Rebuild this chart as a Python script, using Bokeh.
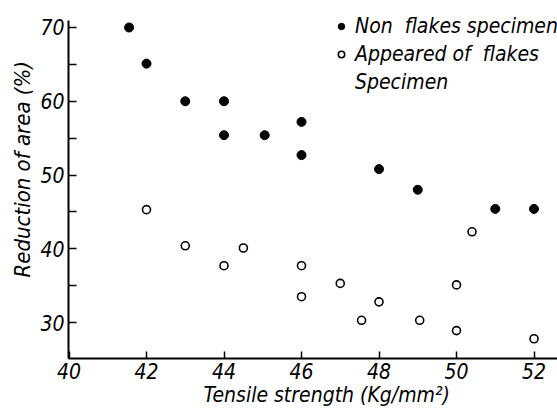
from bokeh.plotting import figure
from bokeh.models import Range1d, FixedTicker, Legend, LegendItem, Title
from bokeh.embed import file_html
from bokeh.resources import INLINE

# Data
non_x = [41.55, 42.0, 43.0, 44.0, 44.0, 45.05, 46.0, 46.0, 48.0, 49.0, 51.0, 52.0]
non_y = [70.0, 65.1, 60.0, 60.0, 55.4, 55.4, 57.2, 52.7, 50.8, 48.0, 45.4, 45.4]
app_x = [42.0, 43.0, 44.0, 44.5, 46.0, 46.0, 47.0, 47.55, 48.0, 49.05, 50.0, 50.0, 50.4, 52.0]
app_y = [45.3, 40.4, 37.7, 40.1, 37.7, 33.5, 35.3, 30.3, 32.8, 30.3, 35.1, 28.9, 42.3, 27.8]
x_ticks = [40, 42, 44, 46, 48, 50, 52]
y_ticks = [30, 40, 50, 60, 70]
y_minor = [35, 45, 55, 65]
non_label = "Non  flakes specimen"
app_label1 = "Appeared of  flakes"
app_label2 = "Specimen"
x_title = "Tensile  strength (Kg/mm²)"
y_title = "Reduction of  area (%)"

FONT = "DejaVu Sans Condensed"

p = figure(width=557, height=410, output_backend="svg", toolbar_location=None,
           x_range=Range1d(39.987, 52.606), y_range=Range1d(25.12, 73.66),
           min_border_left=68, min_border_right=0, min_border_top=0, min_border_bottom=52)
p.outline_line_color = None
p.grid.visible = False
p.background_fill_color = "white"

r1 = p.scatter(non_x, non_y, size=9, color="black")
r2 = p.scatter(app_x, app_y, size=8, fill_color="white", line_color="black", line_width=1.6)
r3 = p.scatter([], [], size=1, fill_alpha=0, line_alpha=0)

for ax in (p.xaxis[0], p.yaxis[0]):
    ax.axis_line_width = 2
    ax.axis_line_color = "black"
    ax.major_tick_line_color = "black"
    ax.minor_tick_line_color = "black"
    ax.major_tick_line_width = 1.5
    ax.minor_tick_line_width = 1.5
    ax.major_tick_out = 0
    ax.minor_tick_out = 0
    ax.major_label_text_font = FONT
    ax.major_label_text_font_style = "italic"
    ax.major_label_text_font_size = "21px"
    ax.major_label_text_color = "black"

p.xaxis.ticker = FixedTicker(ticks=x_ticks)
p.xaxis.major_tick_in = 7
p.xaxis.major_label_standoff = 4
p.xaxis.minor_tick_in = 0

p.yaxis.ticker = FixedTicker(ticks=y_ticks, minor_ticks=y_minor)
p.yaxis.major_tick_in = 8
p.yaxis.minor_tick_in = 8
p.yaxis.major_label_standoff = 4
p.yaxis.bounds = (25.12, 70.95)

p.add_layout(Title(text=x_title, align="left", offset=135, standoff=-2,
                   text_font=FONT, text_font_style="italic", text_font_size="21px",
                   text_color="black"), "below")
p.add_layout(Title(text=y_title, align="left", offset=81, standoff=6,
                   text_font=FONT, text_font_style="italic", text_font_size="22px",
                   text_color="black"), "left")

legend = Legend(items=[LegendItem(label=non_label, renderers=[r1]),
                       LegendItem(label=app_label1, renderers=[r2]),
                       LegendItem(label=app_label2, renderers=[r3])],
                location=(265, 264), padding=0, margin=0, spacing=4,
                glyph_width=16, glyph_height=20, label_standoff=6, label_height=20,
                label_text_font=FONT, label_text_font_style="italic",
                label_text_font_size="21px", label_text_color="black",
                background_fill_alpha=0, border_line_color=None)
p.add_layout(legend, "center")

open("out.html", "w").write(file_html(p, INLINE))
